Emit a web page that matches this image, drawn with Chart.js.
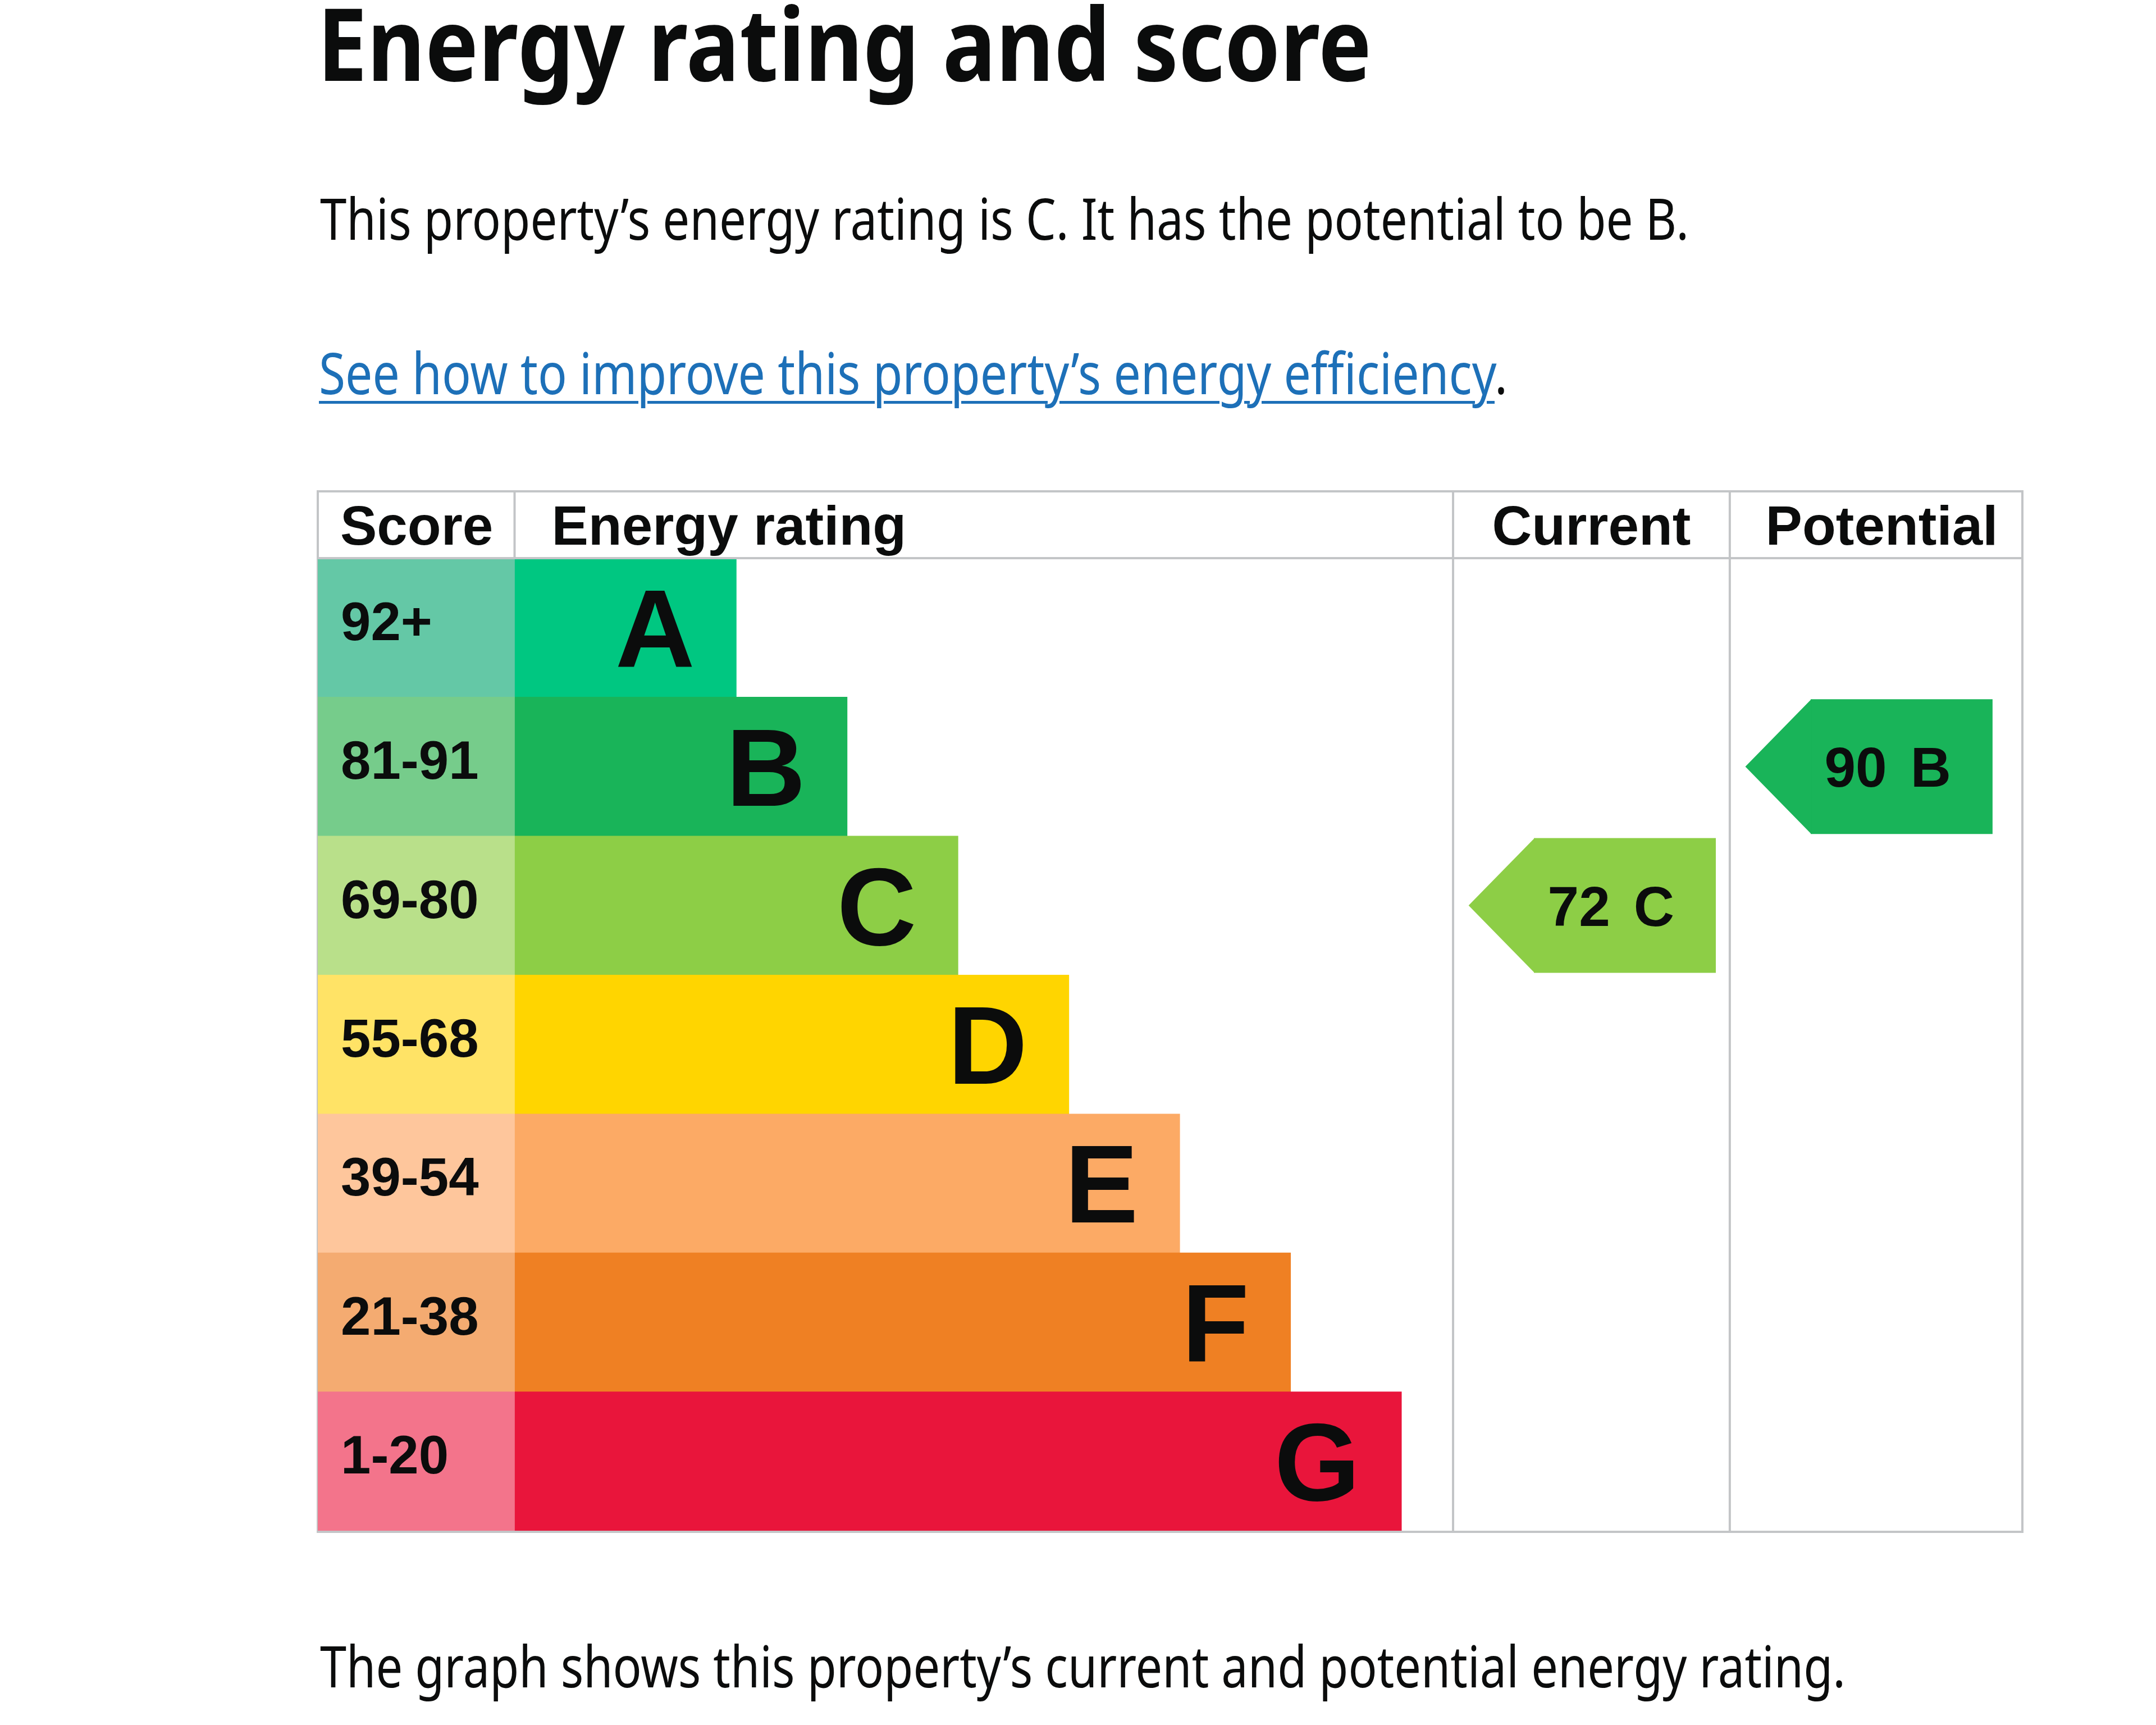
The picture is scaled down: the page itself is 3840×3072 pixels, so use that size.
<!DOCTYPE html>
<html>
<head>
<meta charset="utf-8">
<title>Energy rating and score</title>
<script src="https://cdn.jsdelivr.net/npm/chart.js@4.4.1/dist/chart.umd.min.js"></script>
<style>
  html, body { margin: 0; background: #fff; }
  body { width: 3840px; height: 3072px; position: relative; overflow: hidden;
         font-family: "Noto Sans", "Open Sans", sans-serif; color: #0b0c0c; }
  .fit { position: absolute; white-space: nowrap; line-height: 1; margin: 0;
         transform-origin: 0 0; display: inline-block; }
  h1.fit { left: 565px; top: -15px; font-size: 179px; font-weight: 700; }
  #intro { left: 570px; top: 336px; font-size: 103px; }
  #improve { left: 568px; top: 611px; font-size: 103px; }
  #improve a { color: #1d70b8; text-decoration: underline; text-decoration-thickness: 5px;
               text-underline-offset: 12px; }
  #caption { left: 570px; top: 2914px; font-size: 103px; }
  #chartBox { position: absolute; left: 556px; top: 865px; width: 3056px; height: 1871px; }
</style>
</head>
<body>
<h1 class="fit" data-w="1878">Energy rating and score</h1>
<p class="fit" id="intro" data-w="2438">This property’s energy rating is C. It has the potential to be B.</p>
<p class="fit" id="improve" data-w="2117"><a href="#">See how to improve this property’s energy efficiency</a>.</p>
<p class="fit" id="caption" data-w="2717">The graph shows this property’s current and potential energy rating.</p>
<div id="chartBox"><canvas id="epcChart"></canvas></div>

<script>
// bands and their score ranges
const bands = ['A', 'B', 'C', 'D', 'E', 'F', 'G'];
const scoreRanges = ['92+', '81-91', '69-80', '55-68', '39-54', '21-38', '1-20'];
const barLengths = [2, 3, 4, 5, 6, 7, 8];
const bandColors = ['#00c781', '#19b459', '#8dce46', '#ffd500', '#fcaa65', '#ef8023', '#e9153b'];
const scoreColors = ['#64c8a6', '#76cc8b', '#b9e08a', '#ffe366', '#fec69c', '#f4ab71', '#f3748b'];
const currentScore = 72;
const currentBand = 'C';
const potentialScore = 90;
const potentialBand = 'B';

// table layout, in bar steps along the x axis
const SCORE_W = 1.775;
const CUR_X = 10.24;
const POT_X = 12.736;
const TABLE_W = 15.375;
const HEADER_H = 119;
const LINE = '#c3c5c7';
const LABEL_FONT = '"Liberation Sans", Arial, sans-serif';

function arrowData(band, colStart) {
    return bands.map(b => b === band ? [colStart + 0.73, colStart + 2.37] : null);
}

const tableLines = {
    id: 'tableLines',
    beforeDatasetsDraw(chart) {
        const { ctx, chartArea, scales: { x } } = chart;
        ctx.save();
        ctx.strokeStyle = LINE;
        ctx.lineWidth = 4;
        [0, SCORE_W, CUR_X, POT_X, TABLE_W].forEach(v => {
            const px = x.getPixelForValue(v);
            ctx.beginPath();
            ctx.moveTo(px, chartArea.top - HEADER_H);
            ctx.lineTo(px, chartArea.bottom + 2);
            ctx.stroke();
        });
        ctx.restore();
    },
    afterDatasetsDraw(chart) {
        const { ctx, chartArea, scales: { x } } = chart;
        const x0 = x.getPixelForValue(0), x1 = x.getPixelForValue(TABLE_W);
        ctx.save();
        ctx.strokeStyle = LINE;
        ctx.lineWidth = 4;
        [chartArea.top - HEADER_H, chartArea.top, chartArea.bottom + 2].forEach(py => {
            ctx.beginPath();
            ctx.moveTo(x0 - 2, py);
            ctx.lineTo(x1 + 2, py);
            ctx.stroke();
        });

        // arrow tips
        chart.data.datasets.forEach((ds, i) => {
            if (ds.tip === undefined) return;
            chart.getDatasetMeta(i).data.forEach((bar, j) => {
                if (!ds.data[j]) return;
                const tipX = x.getPixelForValue(ds.tip);
                const h = bar.height / 2;
                ctx.fillStyle = ds.backgroundColor;
                ctx.beginPath();
                ctx.moveTo(bar.base + 1, bar.y - h);
                ctx.lineTo(tipX, bar.y);
                ctx.lineTo(bar.base + 1, bar.y + h);
                ctx.closePath();
                ctx.fill();
            });
        });
        ctx.restore();
    }
};

const tableText = {
    id: 'tableText',
    afterDraw(chart) {
        const { ctx, chartArea, scales: { x } } = chart;
        ctx.save();
        ctx.fillStyle = '#0b0c0c';
        ctx.textBaseline = 'alphabetic';

        // header row
        const headY = chartArea.top - HEADER_H / 2 + 35;
        ctx.font = 'bold 98px ' + LABEL_FONT;
        ctx.textAlign = 'left';
        ctx.fillText('Score', x.getPixelForValue(0) + 40, headY);
        ctx.fillText('Energy rating', x.getPixelForValue(SCORE_W) + 66, headY);
        ctx.textAlign = 'center';
        ctx.fillText('Current', x.getPixelForValue((CUR_X + POT_X) / 2), headY);
        ctx.fillText('Potential', x.getPixelForValue((POT_X + TABLE_W) / 2) + 10, headY);

        // score ranges
        ctx.textAlign = 'left';
        ctx.font = 'bold 96px ' + LABEL_FONT;
        chart.getDatasetMeta(0).data.forEach((bar, i) => {
            ctx.fillText(scoreRanges[i], x.getPixelForValue(0) + 41, bar.y + 22);
        });

        // band letters
        ctx.textAlign = 'right';
        ctx.font = 'bold 196px ' + LABEL_FONT;
        chart.getDatasetMeta(1).data.forEach((bar, i) => {
            ctx.fillText(bands[i], bar.x - 74, bar.y + 70);
        });

        // arrow labels
        ctx.font = 'bold 100px ' + LABEL_FONT;
        [[2, currentScore, currentBand], [3, potentialScore, potentialBand]].forEach(([di, score, band]) => {
            const bar = chart.getDatasetMeta(di).data[bands.indexOf(band)];
            const right = bar.x - 74;
            ctx.fillText(band, right, bar.y + 36);
            const bw = ctx.measureText(band).width;
            ctx.fillText(String(score), right - bw - 42, bar.y + 36);
        });
        ctx.restore();
    }
};

new Chart(document.getElementById('epcChart'), {
    type: 'bar',
    data: {
        labels: bands,
        datasets: [{
            label: 'Score',
            data: bands.map(() => [0, SCORE_W]),
            backgroundColor: scoreColors,
            grouped: false,
            barPercentage: 1,
            categoryPercentage: 1
        }, {
            label: 'Energy rating',
            data: barLengths.map(l => [SCORE_W, SCORE_W + l]),
            backgroundColor: bandColors,
            grouped: false,
            barPercentage: 1,
            categoryPercentage: 1
        }, {
            label: 'Current',
            data: arrowData(currentBand, CUR_X),
            backgroundColor: bandColors[bands.indexOf(currentBand)],
            tip: CUR_X + 0.14,
            grouped: false,
            barPercentage: 0.97,
            categoryPercentage: 1
        }, {
            label: 'Potential',
            data: arrowData(potentialBand, POT_X),
            backgroundColor: bandColors[bands.indexOf(potentialBand)],
            tip: POT_X + 0.14,
            grouped: false,
            barPercentage: 0.97,
            categoryPercentage: 1
        }]
    },
    options: {
        indexAxis: 'y',
        responsive: true,
        maintainAspectRatio: false,
        animation: false,
        devicePixelRatio: 1,
        layout: { padding: { top: 10 + HEADER_H, left: 10, right: 10, bottom: 10 } },
        scales: {
            x: { type: 'linear', min: 0, max: TABLE_W, display: false },
            y: { type: 'category', display: false, offset: true }
        },
        plugins: {
            legend: { display: false },
            tooltip: { enabled: false }
        }
    },
    plugins: [tableLines, tableText]
});

// squeeze the page text to the measured line widths
document.fonts.ready.then(() => {
    document.querySelectorAll('.fit').forEach(el => {
        const w = el.getBoundingClientRect().width;
        el.style.transform = 'scaleX(' + (el.dataset.w / w) + ')';
    });
});
</script>
</body>
</html>
